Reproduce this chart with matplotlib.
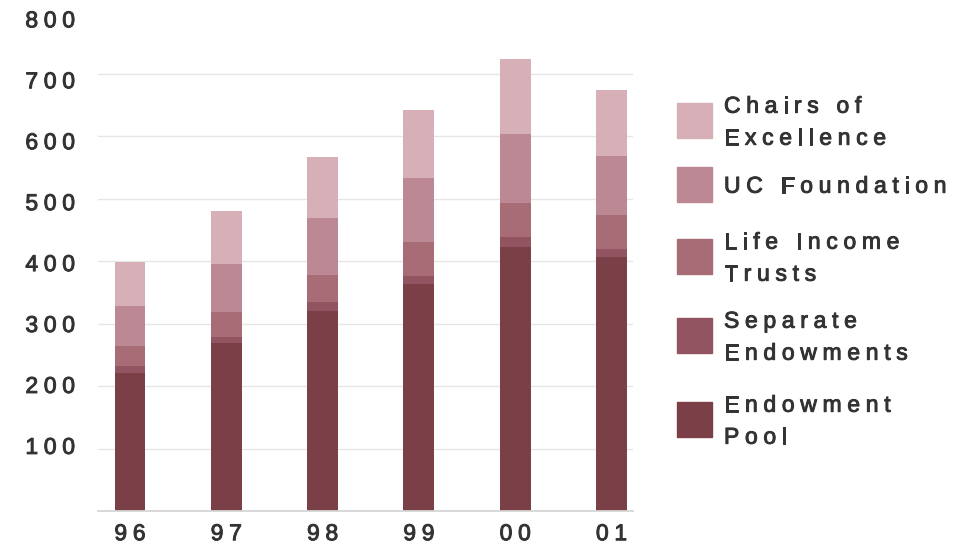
import matplotlib
matplotlib.use("Agg")
import matplotlib.pyplot as plt
from matplotlib import font_manager
from matplotlib import patheffects
from matplotlib.ft2font import FT2Font
from matplotlib.transforms import offset_copy
from matplotlib.patches import Rectangle

# ============================================================
# Podatki (v milijonih), odčitano s slike
# ============================================================

years = ["96", "97", "98", "99", "00", "01"]

endowment_pool = [221, 269, 320, 363, 422, 406]
separate_endowments = [11, 9, 14, 13, 16, 13]
life_income_trusts = [32, 40, 44, 54, 55, 55]
uc_foundation = [64, 77, 91, 103, 110, 94]
chairs_of_excellence = [70, 85, 97, 109, 120, 106]

y_ticks = [100, 200, 300, 400, 500, 600, 700, 800]

# od spodaj navzgor
series = [
    (["Endowment", "Pool"], endowment_pool, "#7b3f48"),
    (["Separate", "Endowments"], separate_endowments, "#925460"),
    (["Life Income", "Trusts"], life_income_trusts, "#a86c76"),
    (["UC Foundation"], uc_foundation, "#bb8893"),
    (["Chairs of", "Excellence"], chairs_of_excellence, "#d6afb7"),
]

text_color = "#333333"
font_size = 16.5
track = 4.1  # dodaten razmik med črkami, v točkah

# ============================================================
# Funkcije
# ============================================================

font_path = font_manager.findfont(font_manager.FontProperties(family="Liberation Sans"))
ft = FT2Font(font_path)
heavy = [patheffects.withStroke(linewidth=0.7, foreground=text_color)]


def spaced_text(ax, x, y, s, transform, ha="left", size=font_size):
    """Izpiše besedilo z razmaknjenimi črkami (navpično na sredini velikih črk)."""
    ft.set_size(size, 72)
    advances = []
    for c in s:
        g = ft.load_char(ord(c))
        advances.append(g.linearHoriAdvance / 65536 + track)
    total = sum(advances) - track
    if ha == "center":
        pos = -total / 2
    elif ha == "right":
        pos = -total
    else:
        pos = 0.0
    base = -0.358 * size
    for c, adv in zip(s, advances):
        if c != " ":
            tr = offset_copy(transform, fig=ax.figure, x=pos, y=base, units="points")
            ax.text(x, y, c, transform=tr, ha="left", va="baseline",
                    fontsize=size, family="Liberation Sans", color=text_color,
                    path_effects=heavy, clip_on=False)
        pos += adv


# ============================================================
# Graf
# ============================================================

fig = plt.figure(figsize=(9.56, 5.44), dpi=100)
ax = fig.add_axes([98 / 956, 1 - 511 / 544, 535 / 956, 500 / 544])

x = list(range(len(years)))
bottom = [0] * len(years)
for labels, values, color in series:
    ax.bar(x, values, width=0.32, bottom=bottom, color=color, zorder=2)
    bottom = [b + v for b, v in zip(bottom, values)]

ax.set_xlim(-0.332, 5.223)
ax.set_ylim(0, 800)

for t in y_ticks[:-1]:
    ax.axhline(t, color="#e6e6e6", lw=1.0, zorder=1)

for side in ["top", "right", "left"]:
    ax.spines[side].set_visible(False)
ax.spines["bottom"].set_color("#d6d6d6")
ax.spines["bottom"].set_linewidth(1.3)
ax.set_xticks([])
ax.set_yticks([])

# oznake osi (v originalu so zgornje oznake malo nižje od mrežnih črt)
for t in y_ticks:
    spaced_text(ax, 0, t * 0.975 + 7, str(t),
                offset_copy(ax.get_yaxis_transform(), fig=fig, x=-23, units="dots"),
                ha="right")

for xi, lab in zip(x, years):
    spaced_text(ax, xi, 0, lab,
                offset_copy(ax.get_xaxis_transform(), fig=fig, y=-21, units="dots"),
                ha="center")

# legenda
legend_tops = [402, 318, 239, 167, 103]
box = 35
for (labels, values, color), top in zip(series, legend_tops):
    ax.add_artist(Rectangle((677 / 956, 1 - (top + box) / 544), box / 956, box / 544,
                            transform=fig.transFigure, color=color, clip_on=False))
    cy = top + box / 2
    n = len(labels)
    for i, line in enumerate(labels):
        ly = cy + (i - (n - 1) / 2) * 32
        spaced_text(ax, 724 / 956, 1 - ly / 544, line, fig.transFigure)

plt.savefig("out.png", dpi=100)
